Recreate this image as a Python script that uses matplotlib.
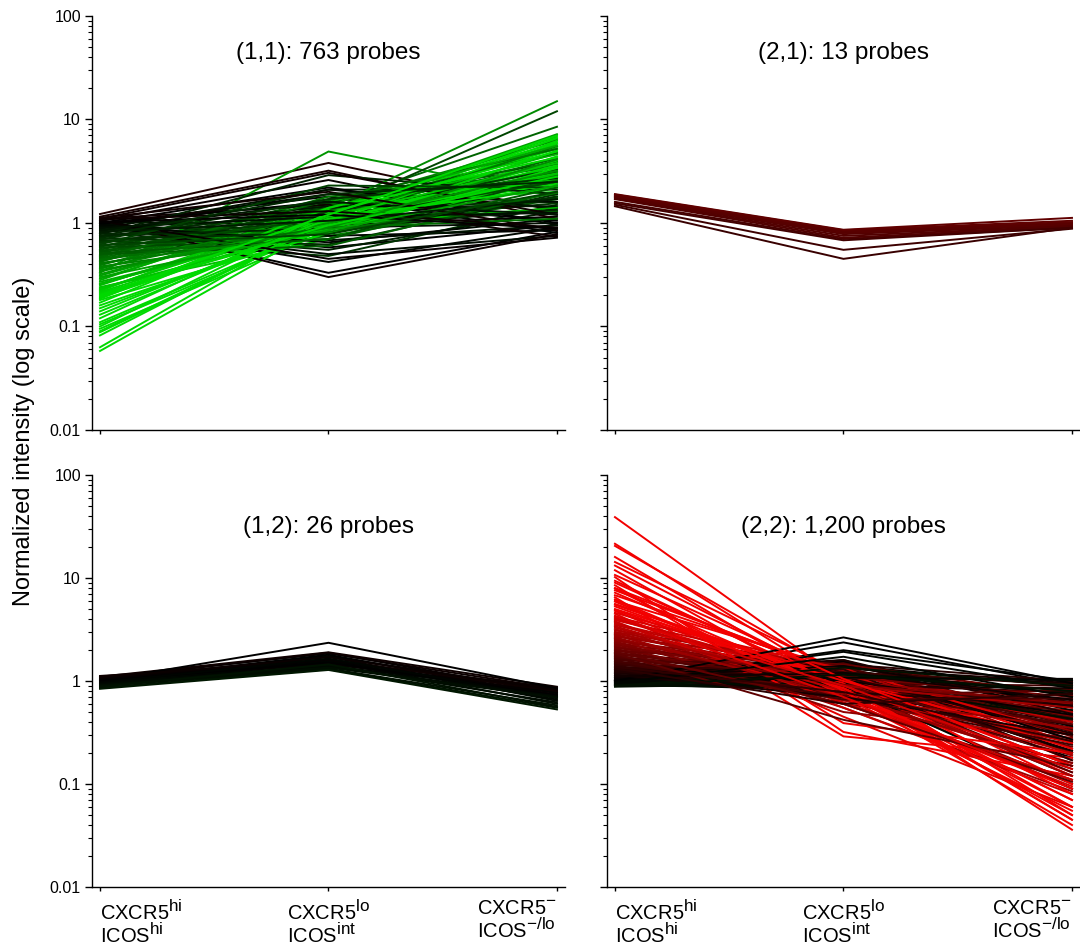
import numpy as np
import matplotlib.pyplot as plt
import matplotlib._mathtext as mathtext_internal
from matplotlib.ticker import LogLocator, NullFormatter

plt.rcParams['font.family'] = ['Liberation Sans', 'DejaVu Sans']
plt.rcParams['mathtext.fontset'] = 'custom'
plt.rcParams['mathtext.rm'] = 'Liberation Sans'
plt.rcParams['mathtext.it'] = 'Liberation Sans:italic'
plt.rcParams['mathtext.bf'] = 'Liberation Sans:bold'
# bigger superscripts, like the original figure
mathtext_internal.SHRINK_FACTOR = 0.85

# conditions on the x axis
conditions = [r'CXCR5$^{\mathrm{hi}}$' + '\n' + r'ICOS$^{\mathrm{hi}}$',
              r'CXCR5$^{\mathrm{lo}}$' + '\n' + r'ICOS$^{\mathrm{int}}$',
              r'CXCR5$^{\mathrm{-}}$' + '\n' + r'ICOS$^{\mathrm{-/lo}}$']
panel_titles = ['(1,1): 763 probes', '(2,1): 13 probes',
                '(1,2): 26 probes', '(2,2): 1,200 probes']

# normalized intensity per probe: first / second / third condition
p11_start = [1.22, 1.15, 1.10, 1.05, 1.00, 1.12, 0.98, 1.08, 1.00, 0.95, 1.05, 0.92, 1.10, 1.02, 0.90, 0.95, 1.00, 0.88, 0.85, 0.80,
             0.78, 0.75, 0.72, 0.70, 0.68, 0.65, 0.62, 0.60, 0.58, 0.55, 0.52, 0.50, 0.48, 0.46, 0.44, 0.42, 0.40, 0.38, 0.36, 0.34, 0.33, 0.31, 0.30,
             0.28, 0.27, 0.25, 0.24, 0.23, 0.22, 0.21, 0.20, 0.19, 0.18, 0.17, 0.15, 0.14, 0.11, 0.10, 0.095, 0.088, 0.082, 0.063, 0.058,
             1.08, 1.03, 0.99, 0.96, 0.93, 0.90, 0.87, 0.84, 0.82, 0.79, 0.76, 0.74, 0.71, 0.69, 0.66, 0.64, 0.61, 0.59, 0.57, 0.54,
             0.53, 0.51, 0.49, 0.47, 0.45, 0.43, 0.41, 0.39, 0.37, 0.35, 0.32, 0.29, 0.26, 0.255, 0.235, 0.225, 0.215, 0.205, 0.195, 0.185,
             0.16, 0.13, 0.12, 0.105, 0.09]
p11_mid = [3.80, 3.20, 3.05, 2.60, 2.20, 2.00, 1.80, 0.30, 0.33, 0.42, 0.45, 0.50, 1.50, 1.20, 0.90, 0.65, 0.58, 2.10, 1.60, 0.55,
           2.90, 1.90, 1.40, 0.80, 0.48, 1.10, 2.30, 1.30, 0.70, 1.70, 1.00, 0.60, 1.50, 1.20, 0.90, 1.80, 1.10, 0.75, 1.40, 1.00, 4.90, 1.25, 0.85,
           1.60, 0.95, 1.30, 0.70, 1.15, 1.50, 0.90, 1.20, 1.05, 0.80, 1.35, 1.00, 1.10, 0.95, 1.20, 0.85, 1.00, 1.10, 1.15, 1.00,
           1.30, 0.95, 1.60, 0.75, 1.90, 1.15, 0.68, 1.45, 1.05, 2.10, 0.88, 1.35, 0.62, 1.70, 1.00, 1.25, 0.78, 1.55, 1.10, 0.92,
           1.40, 0.70, 1.20, 1.65, 0.98, 1.30, 0.82, 1.50, 1.08, 0.90, 1.22, 1.40, 0.98, 1.12, 0.88, 1.30, 1.05, 0.95, 1.18, 1.40,
           0.92, 1.08, 1.25, 0.90, 1.02]
p11_end = [1.30, 1.10, 1.20, 0.95, 1.00, 0.85, 0.80, 0.78, 0.82, 0.90, 0.72, 0.75, 0.74, 0.88, 1.00, 1.10, 0.95, 1.40, 1.20, 1.30,
           1.90, 2.50, 1.60, 1.80, 1.50, 3.00, 2.20, 12.0, 2.80, 3.50, 1.30, 2.00, 8.50, 4.20, 1.10, 2.60, 5.50, 1.70, 15.0, 3.20, 1.80, 7.20, 2.30,
           4.60, 1.40, 6.50, 2.90, 3.80, 2.00, 5.00, 7.00, 2.40, 3.40, 6.00, 4.00, 2.20, 5.80, 3.00, 4.40, 6.20, 2.70, 5.20, 3.60,
           0.90, 1.15, 1.05, 0.85, 1.60, 1.25, 0.95, 1.45, 1.70, 2.10, 1.35, 2.40, 1.90, 2.70, 1.55, 3.30, 2.00, 3.90, 2.50, 1.75,
           4.80, 2.20, 3.10, 5.20, 2.60, 3.70, 1.95, 6.30, 2.90, 4.10, 3.30, 5.60, 2.30, 4.70, 3.00, 6.80, 3.50, 2.80, 5.30, 4.30,
           3.90, 6.60, 4.90, 3.20, 5.90]

p21_start = [1.90, 1.88, 1.85, 1.82, 1.80, 1.78, 1.75, 1.72, 1.70, 1.60, 1.55, 1.50, 1.45]
p21_mid = [0.86, 0.85, 0.84, 0.83, 0.82, 0.80, 0.78, 0.75, 0.72, 0.70, 0.68, 0.55, 0.45]
p21_end = [1.12, 1.05, 1.02, 1.00, 0.98, 0.97, 0.95, 0.93, 0.92, 0.90, 0.90, 0.88, 0.90]

p12_start = [1.12, 1.10, 1.09, 1.08, 1.07, 1.06, 1.05, 1.04, 1.03, 1.02, 1.01, 1.00, 0.99,
             0.98, 0.97, 0.96, 0.95, 0.94, 0.93, 0.92, 0.91, 0.90, 0.89, 0.88, 0.86, 0.84]
p12_mid = [1.55, 1.90, 1.62, 1.85, 1.50, 1.70, 1.88, 1.45, 1.60, 1.75, 2.35, 1.52, 1.80,
           1.40, 1.65, 1.48, 1.58, 1.38, 1.72, 1.42, 1.35, 1.55, 1.32, 1.45, 1.30, 1.28]
p12_end = [0.86, 0.88, 0.80, 0.84, 0.78, 0.82, 0.76, 0.83, 0.74, 0.79, 0.85, 0.72, 0.70,
           0.77, 0.68, 0.73, 0.66, 0.71, 0.64, 0.62, 0.69, 0.60, 0.58, 0.56, 0.55, 0.53]

p22_start = [39.0, 21.5, 20.5, 16.0, 14.3, 13.2, 11.9, 10.7, 10.2, 9.4, 8.5, 7.6, 6.5, 5.9, 5.0, 4.8, 4.5, 4.2, 4.0, 3.8,
             3.6, 3.4, 3.2, 3.0, 2.9, 2.8, 2.7, 2.6, 2.5, 2.4, 2.3, 2.2, 2.1, 2.0, 1.95, 1.9, 1.85, 1.8, 1.75, 1.7,
             1.65, 1.6, 1.55, 1.5, 1.45, 1.4, 1.35, 1.32, 1.3, 1.27, 1.25, 1.22, 1.2, 1.18, 1.15, 1.12, 1.1, 1.08, 1.06, 1.04,
             1.02, 1.0, 1.0, 0.98, 0.97, 0.96, 0.95, 0.94, 0.93, 0.92, 0.91, 0.9, 0.89, 0.88,
             4.9, 4.6, 4.3, 4.1, 3.9, 3.7, 3.5, 3.3, 3.1, 2.95, 2.85, 2.75, 2.65, 2.55, 2.45, 2.35, 2.25, 2.15, 2.05, 1.98,
             1.92, 1.87, 1.82, 1.77, 1.72, 1.67, 1.62, 1.57, 1.52, 1.47, 1.42, 1.37, 1.33, 1.28, 1.24, 1.21, 1.17, 1.14, 1.11, 1.09,
             1.07, 1.05, 1.03, 1.01, 0.99, 0.965, 0.945, 0.925, 0.905, 0.895,
             9.0, 8.0, 7.2, 6.8, 6.2, 5.6, 5.3, 7.9, 6.0, 5.5]
p22_mid = [1.00, 0.90, 1.10, 0.80, 1.20, 0.95, 0.70, 1.05, 0.32, 0.85, 0.39, 1.15, 0.29, 0.75, 1.00, 0.60, 0.45, 1.30, 0.90, 0.55,
           1.10, 0.80, 0.65, 1.20, 0.95, 0.70, 1.40, 0.50, 1.00, 0.85, 1.25, 0.60, 1.10, 0.75, 1.50, 0.90, 0.42, 1.20, 0.80, 1.05,
           0.65, 1.35, 0.95, 0.70, 1.15, 0.85, 1.30, 0.60, 1.00, 1.45, 0.78, 1.10, 0.90, 1.60, 0.70, 1.20, 0.95, 1.40, 0.80, 1.05,
           1.30, 2.65, 2.37, 1.99, 1.92, 1.72, 1.50, 0.90, 1.20, 1.60, 0.85, 1.10, 1.35, 0.95,
           0.85, 1.10, 0.70, 0.95, 1.25, 0.62, 1.05, 0.80, 1.35, 0.90, 0.55, 1.15, 0.75, 1.00, 1.30, 0.68, 0.92, 1.20, 0.82, 1.45,
           0.60, 1.00, 1.28, 0.72, 1.12, 0.88, 1.38, 0.66, 1.05, 0.95, 1.22, 0.78, 1.50, 0.92, 1.10, 0.70, 1.32, 0.98, 1.18, 0.85,
           1.42, 1.02, 0.90, 1.25, 1.55, 1.08, 0.80, 1.30, 0.96, 1.15,
           0.90, 1.10, 0.80, 1.20, 0.70, 1.00, 0.85, 0.60, 1.30, 0.95]
p22_end = [0.060, 0.045, 0.080, 0.040, 0.100, 0.036, 0.055, 0.150, 0.120, 0.070, 0.200, 0.050, 0.180, 0.090, 0.250, 0.110, 0.060, 0.300, 0.140, 0.080,
           0.400, 0.200, 0.160, 0.500, 0.120, 0.350, 0.220, 0.280, 0.600, 0.100, 0.450, 0.300, 0.700, 0.190, 0.550, 0.260, 0.150, 0.800, 0.380, 0.130,
           0.500, 0.320, 0.900, 0.240, 0.650, 0.420, 0.170, 0.750, 0.350, 1.000, 0.580, 0.210, 0.850, 0.480, 0.300, 0.950, 0.120, 0.620, 0.400, 1.050,
           0.270, 0.950, 0.900, 1.000, 0.850, 0.700, 0.520, 0.090, 0.750, 0.360, 0.600, 0.200, 0.900, 0.450,
           0.130, 0.220, 0.095, 0.300, 0.170, 0.110, 0.420, 0.250, 0.190, 0.550, 0.085, 0.330, 0.140, 0.460, 0.270, 0.160, 0.620, 0.380, 0.230, 0.720,
           0.105, 0.500, 0.290, 0.820, 0.200, 0.440, 0.340, 0.680, 0.150, 0.580, 0.920, 0.260, 0.400, 0.780, 0.310, 0.520, 0.980, 0.210, 0.660, 0.370,
           0.880, 0.470, 0.180, 0.740, 0.560, 1.020, 0.330, 0.620, 0.430, 0.800,
           0.070, 0.120, 0.050, 0.200, 0.090, 0.150, 0.060, 0.110, 0.250, 0.045]


def probe_colour(v):
    # red / black / green by intensity in the first condition (range 0.2 .. 5)
    t = np.clip(np.log10(v) / np.log10(5), -1, 1)
    if t >= 0:
        return (0.95 * t, 0, 0)
    return (0, -0.85 * t, 0)


fig = plt.figure(figsize=(10.8, 9.5), dpi=100)
ax11 = fig.add_axes([0.0852, 0.5474, 0.4379, 0.4358])
ax21 = fig.add_axes([0.5620, 0.5474, 0.4380, 0.4358])
ax12 = fig.add_axes([0.0852, 0.0663, 0.4379, 0.4337])
ax22 = fig.add_axes([0.5620, 0.0663, 0.4380, 0.4337])

panels = [(ax11, p11_start, p11_mid, p11_end),
          (ax21, p21_start, p21_mid, p21_end),
          (ax12, p12_start, p12_mid, p12_end),
          (ax22, p22_start, p22_mid, p22_end)]

x = [0, 1, 2]
for i, (ax, s, m, e) in enumerate(panels):
    n = len(s)
    # probes come out in no particular order in the original, so mix the drawing order
    order = [(k * 29) % n for k in range(n)]
    for k in order:
        ax.plot(x, [s[k], m[k], e[k]], color=probe_colour(s[k]), lw=1.4, solid_joinstyle='miter')

    ax.set_yscale('log')
    ax.set_ylim(0.01, 100)
    ax.set_xlim(-0.035, 2.035)
    ax.spines['top'].set_visible(False)
    ax.spines['right'].set_visible(False)
    for sp in ['left', 'bottom']:
        ax.spines[sp].set_linewidth(1.0)

    ax.set_yticks([0.01, 0.1, 1, 10, 100])
    ax.yaxis.set_minor_locator(LogLocator(base=10, subs=np.arange(2, 10) * 1.0, numticks=20))
    ax.yaxis.set_minor_formatter(NullFormatter())
    ax.tick_params(axis='y', which='major', length=5, width=1, direction='out', labelsize=11.5, pad=3)
    ax.tick_params(axis='y', which='minor', length=3, width=0.8, direction='out')
    ax.tick_params(axis='x', which='major', length=3, width=1, direction='out', pad=6)

    if i % 2 == 0:
        ax.set_yticklabels(['0.01', '0.1', '1', '10', '100'])
    else:
        ax.set_yticklabels([])

    ax.set_xticks(x)
    if i >= 2:
        labs = ax.set_xticklabels(conditions, fontsize=14.5)
        for lab, ha in zip(labs, ['left', 'center', 'right']):
            lab.set_ha(ha)
            lab.set_multialignment('left')
            lab.set_linespacing(0.95)
    else:
        ax.set_xticklabels([])

    ty = 0.91 if i < 2 else 0.875
    ax.text(1, ty, panel_titles[i], transform=ax.get_xaxis_transform(),
            ha='center', va='center', fontsize=17.5)

fig.text(0.022, 0.535, 'Normalized intensity (log scale)', rotation=90,
         ha='center', va='center', fontsize=17)

fig.savefig('out.png', dpi=100)
